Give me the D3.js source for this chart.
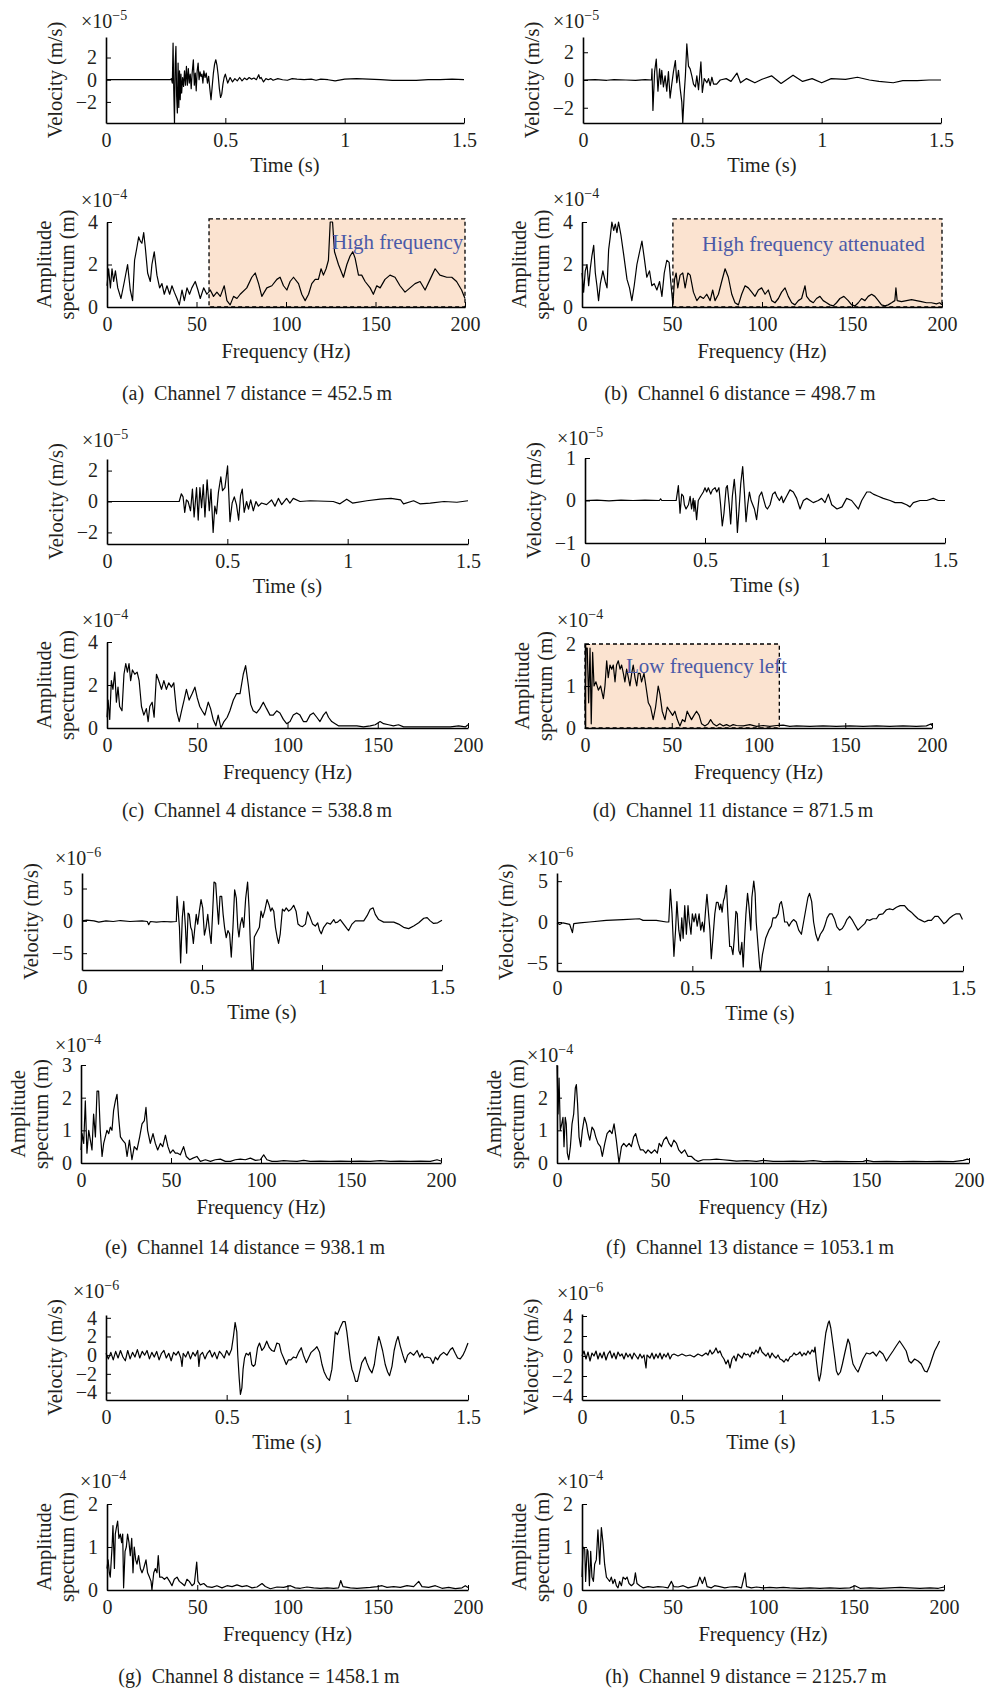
<!DOCTYPE html>
<html>
<head>
<meta charset="utf-8">
<script src="https://cdn.jsdelivr.net/npm/d3@7"></script>
<style>
  body { margin: 0; background: #fff; }
  svg text { font-family: "Liberation Serif", "Times New Roman", serif; fill: #231f20; }
</style>
</head>
<body>
<svg id="chart" width="987" height="1691"></svg>
<script>
// ---- data: [time s, velocity] and [frequency Hz, amplitude] ----
var ch7Vel = [[0,0],[0.27,0],[0.274,0.1],[0.278,-0.3],[0.281,3.3],[0.284,-1.0],[0.287,-3.9],[0.290,1.5],[0.293,3.0],[0.296,-1.5],[0.299,-3.0],[0.302,1.5],[0.305,-2.5],[0.308,0.8],[0.311,-1.8],[0.314,0.5],[0.317,-1.2],[0.321,0.2],[0.325,-0.6],[0.329,0.8],[0.333,-0.5],[0.337,1.2],[0.341,-0.5],[0.345,1.0],[0.349,-0.3],[0.353,0.5],[0.357,-0.8],[0.361,0.6],[0.366,1.8],[0.370,-0.5],[0.374,0.6],[0.378,-1.0],[0.382,0.8],[0.386,1.5],[0.390,0.0],[0.394,0.7],[0.398,0.3],[0.402,0.5],[0.406,-0.3],[0.41,0.8],[0.415,0.2],[0.42,0.6],[0.425,-0.3],[0.43,0.3],[0.435,-0.8],[0.44,-1.8],[0.445,-0.6],[0.45,0.6],[0.455,1.4],[0.46,1.8],[0.465,1.3],[0.47,0.4],[0.475,-0.8],[0.48,-1.6],[0.485,-1.3],[0.49,-0.4],[0.495,0.2],[0.50,0.5],[0.505,0.1],[0.51,-0.3],[0.52,0.2],[0.53,-0.2],[0.54,0.1],[0.55,-0.1],[0.56,0.2],[0.57,-0.1],[0.58,0.15],[0.59,0.0],[0.60,0.2],[0.61,0.05],[0.62,0.15],[0.63,0.0],[0.64,0.45],[0.645,0.1],[0.65,0.2],[0.66,-0.2],[0.67,0.1],[0.68,0.0],[0.69,0.1],[0.70,-0.05],[0.72,0.1],[0.74,0.0],[0.76,-0.05],[0.78,0.1],[0.80,0.05],[0.83,0.0],[0.86,0.05],[0.88,-0.05],[0.90,0.05],[0.93,0.0],[0.96,-0.1],[1.0,0.05],[1.05,0.1],[1.1,0.05],[1.15,0.0],[1.2,-0.05],[1.25,-0.05],[1.3,-0.05],[1.35,0.0],[1.4,0.0],[1.45,0.05],[1.5,0.0]];
var ch7Amp = [[0,1.0],[0.9,1.8],[1.9,0.9],[2.8,1.8],[3.7,1.2],[4.7,1.7],[6.0,0.9],[7.8,0.4],[9.7,1.2],[11.5,2.0],[13.0,0.8],[14.3,0.3],[15.4,2.2],[16.7,2.8],[17.7,3.3],[18.6,3.1],[19.5,3.0],[20.5,3.5],[21.4,2.8],[22.7,1.6],[24.2,1.2],[25.1,2.0],[26.4,2.6],[27.9,1.5],[29.4,0.9],[30.7,1.1],[32.0,0.6],[33.5,1.0],[35.0,0.6],[36.3,1.0],[37.6,0.7],[39.1,0.4],[40.4,0.1],[41.9,0.8],[43.2,0.3],[44.7,0.9],[46.1,0.6],[47.4,0.9],[49.3,1.2],[50.8,0.8],[52.1,0.4],[54.0,0.9],[55.8,0.6],[57.7,0.8],[59.5,0.5],[61.4,0.7],[63.3,0.5],[65.5,1.0],[67.0,0.3],[68.8,0.1],[70.7,0.5],[72.6,0.4],[74.4,0.6],[78.1,0.9],[80.9,1.4],[82.8,1.6],[84.7,1.1],[86.5,0.5],[89.3,0.9],[92.1,1.0],[94.9,1.3],[96.7,1.4],[98.6,1.0],[100.5,0.8],[102.3,1.2],[104.2,1.4],[107.0,1.1],[108.8,0.6],[110.7,0.3],[112.6,0.6],[114.4,1.1],[116.3,1.3],[118.1,1.3],[119.6,1.8],[120.9,1.5],[122.4,1.8],[123.7,2.2],[124.7,4.0],[126.0,4.0],[127.1,2.6],[129.3,2.0],[132.1,1.4],[134.0,2.0],[135.8,2.4],[137.3,2.6],[138.6,2.3],[140.5,1.5],[142.3,1.5],[144.2,1.2],[147.0,0.9],[148.8,0.6],[150.7,1.0],[152.6,0.9],[155.3,1.3],[158.1,1.5],[160.9,1.4],[163.7,1.0],[166.5,0.7],[169.3,0.9],[172.1,1.1],[174.9,1.2],[177.7,0.8],[180.5,1.3],[183.3,1.8],[186.0,1.5],[189.8,1.4],[192.6,1.4],[195.3,1.2],[198.1,0.8],[200,0.4]];

var ch6Vel = [[0,0],[0.05,0.02],[0.1,-0.02],[0.13,0.03],[0.18,0.0],[0.22,-0.03],[0.26,0.02],[0.287,0.0],[0.289,0.8],[0.293,-2.2],[0.300,0.6],[0.307,1.5],[0.314,-0.8],[0.321,0.8],[0.326,-0.3],[0.330,0.7],[0.337,-0.5],[0.344,0.3],[0.351,-0.8],[0.358,0.6],[0.365,-1.3],[0.372,-0.3],[0.379,0.6],[0.387,1.4],[0.393,-0.2],[0.400,0.7],[0.407,-0.6],[0.414,-1.6],[0.418,-3.1],[0.424,-1.0],[0.429,0.3],[0.435,2.6],[0.442,1.0],[0.449,0.8],[0.456,0.3],[0.463,-0.3],[0.471,-0.5],[0.477,0.3],[0.484,-0.7],[0.494,1.3],[0.500,-0.9],[0.508,0.1],[0.519,-0.2],[0.526,0.1],[0.533,-0.4],[0.54,0.2],[0.547,-0.3],[0.56,-0.3],[0.575,0.0],[0.6,0.1],[0.62,-0.1],[0.645,0.5],[0.66,-0.2],[0.685,0.1],[0.72,-0.2],[0.75,0.05],[0.79,0.3],[0.83,-0.25],[0.88,0.35],[0.92,-0.1],[0.96,0.1],[1.0,-0.2],[1.04,0.1],[1.1,0.05],[1.15,0.2],[1.2,0.0],[1.24,-0.1],[1.3,-0.2],[1.34,-0.05],[1.4,-0.05],[1.45,0.0],[1.5,0.0]];
var ch6Amp = [[0,1.6],[0.9,0.7],[1.8,1.7],[2.8,2.0],[3.7,1.0],[4.6,1.8],[5.5,2.4],[6.5,2.9],[7.4,1.6],[8.3,1.0],[9.2,0.3],[10.2,1.1],[11.6,1.7],[12.9,1.2],[13.9,0.9],[14.8,2.7],[15.7,3.3],[16.6,4.0],[17.6,3.6],[18.5,3.9],[19.4,3.5],[20.3,4.0],[21.6,3.4],[23.1,2.5],[25.0,1.3],[26.4,0.9],[27.7,0.3],[29.0,1.0],[30.5,2.0],[32.0,2.6],[33.3,3.1],[34.6,2.3],[36.0,1.4],[37.5,1.7],[38.8,1.0],[40.1,1.1],[41.6,0.8],[43.1,1.2],[44.4,0.5],[45.7,1.6],[47.1,2.2],[48.4,2.1],[49.5,1.0],[50.5,0.1],[51.4,1.3],[52.3,1.6],[53.2,0.9],[54.5,1.5],[56.0,1.6],[57.3,0.9],[58.8,1.6],[60.1,1.5],[61.9,0.7],[63.8,0.3],[65.6,0.5],[67.5,0.4],[69.3,0.6],[71.2,0.3],[72.6,0.8],[73.9,0.3],[75.8,0.6],[77.6,1.2],[79.5,1.8],[81.3,1.4],[83.2,0.6],[85.0,0.2],[86.9,0.1],[88.7,0.6],[90.6,1.0],[92.4,0.9],[94.3,0.7],[96.1,0.5],[98.0,0.8],[99.8,0.9],[101.7,0.6],[103.5,0.8],[105.4,0.3],[107.2,0.2],[109.1,0.4],[110.9,0.7],[112.8,0.9],[114.6,0.5],[116.5,0.2],[118.3,0.1],[120.2,0.3],[122.0,0.4],[123.9,1.0],[124.8,0.5],[126.6,0.3],[128.5,0.2],[130.3,0.4],[132.2,0.5],[134.0,0.3],[135.9,0.2],[137.7,0.1],[139.6,0.05],[141.4,0.2],[143.3,0.4],[145.5,0.5],[147.9,0.3],[149.8,0.1],[151.6,0.05],[153.5,0.2],[155.3,0.4],[157.2,0.3],[159.0,0.5],[160.9,0.6],[162.7,0.5],[164.6,0.3],[166.4,0.1],[168.3,0.05],[170.1,0.1],[172.0,0.2],[173.8,0.3],[174.4,0.9],[175.1,0.3],[177.5,0.25],[180.3,0.3],[183.1,0.35],[185.8,0.3],[188.6,0.25],[191.4,0.2],[194.1,0.2],[196.9,0.15],[198.7,0.2],[200,0.1]];

var ch4Vel = [[0,0],[0.30,0],[0.309,0.5],[0.316,0.3],[0.323,-0.7],[0.330,0.1],[0.337,0.0],[0.347,-0.6],[0.355,0.8],[0.362,-1.0],[0.372,0.9],[0.379,-1.2],[0.386,0.9],[0.393,-0.4],[0.40,1.1],[0.407,-1.0],[0.416,1.4],[0.425,-0.6],[0.432,0.8],[0.441,-2.0],[0.448,-0.3],[0.455,-0.8],[0.463,0.6],[0.473,1.6],[0.48,0.7],[0.49,0.9],[0.501,2.3],[0.511,-1.3],[0.52,-0.1],[0.529,0.3],[0.538,-0.2],[0.547,-1.2],[0.555,0.4],[0.562,0.8],[0.57,-0.7],[0.58,0.0],[0.588,-0.5],[0.597,0.1],[0.608,-0.6],[0.619,0.0],[0.629,-0.3],[0.642,-0.1],[0.663,-0.2],[0.684,0.1],[0.698,-0.3],[0.712,0.2],[0.726,-0.2],[0.746,0.2],[0.76,-0.1],[0.774,0.2],[0.802,0.0],[0.844,0.05],[0.94,0.0],[0.968,-0.15],[0.996,0.15],[1.02,-0.1],[1.08,0.05],[1.135,0.15],[1.18,0.2],[1.22,0.1],[1.232,-0.15],[1.274,0.05],[1.3,-0.15],[1.343,-0.1],[1.4,0.0],[1.454,-0.05],[1.5,0.05]];
var ch4Amp = [[0,0.5],[0.6,1.3],[1.5,0.4],[2.4,2.2],[3.3,1.8],[4.3,2.6],[5.2,1.2],[6.1,1.9],[7.0,1.0],[8.3,0.8],[9.4,2.5],[10.4,3.0],[11.3,2.6],[12.2,3.0],[13.1,2.2],[14.1,2.7],[15.4,2.5],[16.7,2.6],[17.8,2.2],[19.1,1.0],[20.4,0.6],[21.8,0.9],[22.8,0.3],[23.7,1.0],[25.0,1.2],[26.1,0.5],[27.4,2.5],[28.7,2.2],[30.2,1.8],[31.5,2.2],[32.9,1.8],[34.2,2.1],[35.7,1.9],[37.0,2.1],[38.5,0.8],[40.0,0.3],[41.3,0.8],[42.7,1.3],[44.0,1.8],[45.5,1.3],[47.2,1.6],[48.7,1.9],[50.0,1.4],[51.4,1.0],[52.7,0.8],[54.2,0.6],[56.1,1.2],[57.4,0.9],[58.8,0.4],[60.3,0.1],[61.6,0.6],[63.1,0.0],[64.8,0.3],[66.6,0.5],[68.1,0.8],[70.0,1.3],[71.8,1.6],[73.7,1.6],[75.5,2.5],[76.8,2.9],[78.3,2.0],[79.6,1.1],[81.0,0.8],[82.9,0.7],[84.7,0.9],[86.6,1.2],[88.4,0.9],[90.3,0.6],[92.1,0.6],[94.0,0.8],[95.8,0.7],[97.7,0.4],[99.5,0.2],[101.4,0.3],[103.2,0.6],[105.1,0.7],[106.9,0.6],[108.8,0.3],[110.6,0.3],[112.5,0.6],[114.3,0.7],[116.2,0.5],[118.0,0.3],[119.9,0.6],[121.4,0.75],[122.7,0.5],[124.5,0.3],[126.4,0.2],[128.2,0.1],[131.0,0.1],[134.7,0.1],[138.4,0.1],[142.1,0.05],[145.8,0.1],[148.6,0.15],[151.3,0.3],[153.2,0.2],[156.0,0.15],[158.7,0.1],[161.5,0.15],[164.3,0.05],[168.0,0.05],[173.5,0.05],[179.1,0.05],[184.6,0.05],[190.2,0.05],[194.8,0.1],[198.5,0.05],[200,0.15]];

var ch11Vel = [[0,0],[0.05,0.01],[0.1,-0.01],[0.15,0.01],[0.2,0.0],[0.25,0.01],[0.31,0.0],[0.315,0.04],[0.32,0.0],[0.38,0.0],[0.389,0.35],[0.396,-0.3],[0.403,0.15],[0.410,0.1],[0.414,-0.1],[0.421,-0.2],[0.431,-0.1],[0.438,0.1],[0.444,-0.2],[0.451,0.05],[0.454,-0.25],[0.458,0.0],[0.465,-0.45],[0.472,0.0],[0.482,0.1],[0.493,0.2],[0.5,0.3],[0.507,0.2],[0.514,0.3],[0.524,0.15],[0.531,0.25],[0.542,0.3],[0.549,0.2],[0.558,0.3],[0.565,-0.1],[0.572,-0.6],[0.579,-0.3],[0.588,0.3],[0.593,0.35],[0.601,-0.1],[0.607,-0.55],[0.614,0.1],[0.622,0.5],[0.628,0.1],[0.635,-0.75],[0.642,-0.2],[0.649,0.4],[0.657,0.8],[0.664,0.2],[0.671,-0.5],[0.678,-0.1],[0.685,0.2],[0.692,0.0],[0.699,-0.1],[0.706,-0.2],[0.715,-0.45],[0.726,0.1],[0.736,0.2],[0.743,0.05],[0.753,-0.15],[0.76,-0.2],[0.771,-0.1],[0.782,0.15],[0.792,0.2],[0.799,0.1],[0.81,0.0],[0.819,0.1],[0.826,-0.05],[0.84,0.1],[0.854,0.25],[0.868,0.2],[0.882,0.05],[0.896,-0.2],[0.91,0.0],[0.924,0.05],[0.938,0.0],[0.951,-0.05],[0.972,0.0],[0.986,0.05],[1.0,-0.05],[1.014,0.15],[1.028,-0.1],[1.05,-0.2],[1.071,-0.15],[1.09,0.05],[1.111,0.0],[1.132,-0.15],[1.139,-0.2],[1.153,0.0],[1.174,0.2],[1.188,0.2],[1.201,0.15],[1.222,0.1],[1.243,0.05],[1.271,0.0],[1.292,-0.05],[1.319,-0.05],[1.34,-0.1],[1.354,-0.15],[1.368,-0.05],[1.396,0.0],[1.424,0.0],[1.451,0.05],[1.472,0.0],[1.5,0.0]];
var ch11Amp = [[0,0.5],[0.6,1.9],[1.3,1.9],[2.1,0.6],[2.9,1.9],[3.6,0.1],[4.4,1.8],[5.2,1.0],[6.3,1.1],[7.7,0.9],[9.0,1.0],[10.6,0.7],[11.5,1.0],[12.5,1.6],[13.4,1.2],[14.4,1.5],[15.4,1.4],[16.3,1.5],[17.3,1.1],[18.2,1.5],[19.2,1.6],[20.2,1.4],[21.1,1.5],[22.1,1.3],[23.0,1.1],[24.0,1.4],[25.0,1.2],[25.9,1.0],[26.9,1.3],[27.8,1.5],[28.8,1.2],[29.8,1.0],[30.7,1.3],[31.7,1.3],[32.6,1.1],[34.0,1.3],[35.1,1.0],[36.5,0.6],[37.8,0.5],[39.3,0.2],[40.7,0.5],[42.2,1.0],[43.2,0.8],[44.5,0.4],[46.1,0.2],[47.4,0.5],[48.9,0.4],[50.5,0.3],[51.8,0.4],[53.2,0.2],[54.7,0.05],[56.2,0.2],[57.6,0.15],[58.9,0.4],[60.1,0.3],[61.4,0.2],[62.8,0.3],[64.3,0.4],[65.8,0.3],[67.2,0.1],[69.1,0.05],[71.0,0.1],[72.4,0.2],[73.9,0.1],[75.8,0.05],[77.7,0.1],[79.7,0.05],[81.6,0.08],[83.5,0.04],[85.4,0.08],[87.3,0.06],[91.2,0.05],[95.0,0.08],[98.8,0.04],[102.7,0.06],[106.5,0.04],[110.4,0.06],[114.2,0.07],[118.0,0.04],[121.9,0.05],[129.6,0.04],[137.2,0.05],[144.9,0.04],[152.6,0.05],[160.3,0.04],[168.0,0.05],[175.6,0.04],[183.3,0.05],[191.0,0.04],[196.8,0.05],[199.6,0.1],[200,0.05]];

var ch14Vel = [[0,0],[0.02,0.1],[0.05,0.0],[0.07,-0.2],[0.1,0.0],[0.13,-0.1],[0.16,0.05],[0.2,-0.1],[0.25,0.0],[0.272,-0.1],[0.278,-0.6],[0.285,-0.1],[0.31,-0.2],[0.34,-0.1],[0.37,-0.15],[0.393,-0.1],[0.396,3.8],[0.406,-1.0],[0.411,-6.5],[0.418,0.5],[0.424,3.0],[0.431,-1.0],[0.436,-5.0],[0.442,1.2],[0.447,1.0],[0.453,-1.0],[0.458,-1.5],[0.464,-3.5],[0.469,-1.5],[0.476,1.0],[0.482,-0.5],[0.489,1.5],[0.496,3.3],[0.503,2.0],[0.51,-2.2],[0.517,-1.0],[0.524,1.0],[0.531,-1.5],[0.538,-3.5],[0.544,1.0],[0.55,6.0],[0.557,5.8],[0.563,2.5],[0.569,-0.5],[0.575,3.8],[0.582,3.8],[0.588,1.0],[0.594,-1.0],[0.601,-2.6],[0.608,-1.5],[0.615,-2.0],[0.622,-5.6],[0.629,-1.0],[0.636,4.8],[0.643,3.5],[0.649,-1.0],[0.654,-2.5],[0.66,-0.5],[0.667,0.5],[0.674,-1.0],[0.682,3.5],[0.69,6.0],[0.696,2.0],[0.701,-3.0],[0.708,-7.5],[0.713,-7.5],[0.718,-2.5],[0.725,-2.0],[0.732,-1.5],[0.739,-1.0],[0.746,1.5],[0.753,0.5],[0.761,1.5],[0.771,3.3],[0.779,2.5],[0.786,1.5],[0.792,2.0],[0.799,1.5],[0.806,-1.0],[0.813,-2.5],[0.819,-3.5],[0.826,-2.0],[0.835,1.8],[0.843,1.5],[0.851,2.0],[0.861,1.5],[0.871,1.8],[0.882,2.4],[0.892,1.5],[0.9,-0.5],[0.91,-0.8],[0.919,-0.9],[0.931,-0.5],[0.94,1.4],[0.951,0.5],[0.961,-0.5],[0.972,-0.8],[0.982,-0.3],[0.99,-1.5],[0.997,-2.0],[1.007,-1.0],[1.021,-0.3],[1.035,-0.5],[1.049,0.2],[1.056,-0.3],[1.065,-0.2],[1.076,0.2],[1.09,-0.5],[1.104,-1.2],[1.111,-1.5],[1.125,-0.5],[1.139,0.0],[1.16,0.0],[1.174,0.0],[1.188,0.8],[1.201,1.8],[1.213,2.0],[1.222,1.0],[1.236,0.2],[1.257,-0.2],[1.278,-0.2],[1.299,-0.2],[1.319,-0.5],[1.34,-1.0],[1.361,-1.2],[1.382,-0.8],[1.403,-0.3],[1.424,0.4],[1.438,0.5],[1.451,0.0],[1.465,-0.4],[1.482,-0.3],[1.5,0.1]];
var ch14Amp = [[0,0.4],[0.6,0.9],[1.5,0.6],[2.4,1.9],[3.3,0.3],[4.3,1.0],[5.2,0.7],[6.1,0.4],[7.0,1.5],[8.0,0.8],[8.9,2.2],[9.8,2.2],[10.7,1.0],[11.7,0.2],[12.6,0.6],[13.5,0.8],[14.4,1.0],[15.4,0.9],[16.3,1.1],[17.2,1.0],[18.1,1.6],[19.1,1.9],[20.0,2.1],[20.9,1.4],[21.9,0.8],[23.1,0.7],[24.6,0.6],[25.6,0.2],[26.9,0.7],[28.3,0.1],[29.6,0.5],[31.1,0.4],[32.6,0.8],[33.9,1.2],[35.2,1.3],[36.1,1.7],[37.0,1.0],[38.5,0.6],[40.0,0.9],[41.3,0.6],[42.6,0.4],[44.1,0.6],[45.4,0.5],[46.9,0.85],[48.3,0.5],[49.6,0.3],[51.1,0.4],[52.4,0.3],[53.7,0.3],[55.2,0.25],[57.0,0.5],[58.5,0.2],[60.4,0.1],[62.2,0.15],[64.4,0.2],[66.3,0.05],[69.1,0.1],[71.9,0.05],[74.6,0.1],[77.4,0.12],[80.2,0.05],[83.0,0.05],[85.7,0.1],[88.5,0.12],[91.3,0.1],[94.1,0.15],[96.9,0.08],[99.6,0.1],[101.5,0.25],[103.3,0.1],[106.1,0.05],[108.9,0.05],[112.6,0.07],[116.3,0.06],[120.0,0.05],[123.7,0.08],[127.4,0.05],[133.0,0.06],[138.5,0.05],[144.1,0.06],[149.6,0.05],[155.2,0.06],[160.7,0.05],[166.3,0.07],[171.9,0.05],[177.4,0.06],[183.0,0.05],[188.5,0.06],[194.1,0.05],[197.8,0.1],[200,0.06]];

var ch13Vel = [[0,-0.1],[0.01,-0.3],[0.022,-0.1],[0.047,-0.3],[0.057,-1.3],[0.062,-0.2],[0.084,-0.1],[0.12,0.0],[0.182,0.2],[0.244,0.3],[0.305,0.4],[0.318,0.2],[0.367,0.2],[0.404,0.0],[0.413,0.0],[0.419,4.0],[0.425,1.0],[0.432,-4.2],[0.438,-1.0],[0.443,2.5],[0.45,-1.0],[0.456,-2.3],[0.461,0.5],[0.466,-2.0],[0.472,2.0],[0.478,-1.5],[0.484,2.0],[0.489,0.0],[0.495,-1.5],[0.5,1.0],[0.506,0.0],[0.512,1.0],[0.518,-0.5],[0.525,1.0],[0.531,-1.0],[0.537,0.0],[0.543,-1.2],[0.549,1.5],[0.554,3.4],[0.56,1.0],[0.565,-1.0],[0.57,-4.5],[0.576,-2.0],[0.583,1.0],[0.589,2.4],[0.595,2.4],[0.601,1.5],[0.605,2.2],[0.61,1.2],[0.615,2.6],[0.619,3.0],[0.626,4.5],[0.632,0.5],[0.638,-3.0],[0.644,-3.0],[0.65,-4.0],[0.655,-2.0],[0.661,1.3],[0.666,1.0],[0.672,-3.5],[0.677,-4.0],[0.683,-2.5],[0.688,-5.5],[0.693,-2.0],[0.698,1.0],[0.704,3.5],[0.709,2.0],[0.716,-1.0],[0.72,3.0],[0.727,5.0],[0.732,3.5],[0.736,0.0],[0.743,-3.0],[0.749,-5.5],[0.752,-6.0],[0.759,-4.0],[0.765,-3.0],[0.771,-2.0],[0.777,-1.5],[0.783,-1.0],[0.792,-0.5],[0.798,0.5],[0.808,0.5],[0.817,1.0],[0.823,2.2],[0.829,2.5],[0.835,1.5],[0.841,0.0],[0.85,0.0],[0.857,-0.5],[0.866,0.0],[0.874,0.3],[0.884,0.0],[0.893,-1.0],[0.903,-1.5],[0.911,0.0],[0.919,1.5],[0.927,3.0],[0.933,3.5],[0.941,2.5],[0.948,0.0],[0.956,-1.5],[0.964,-2.3],[0.973,-1.5],[0.983,-1.0],[0.989,-0.5],[0.998,0.5],[1.007,1.0],[1.016,1.0],[1.026,0.3],[1.034,-0.6],[1.044,-1.0],[1.054,-0.8],[1.063,-0.3],[1.071,0.3],[1.081,0.7],[1.09,0.3],[1.1,-0.3],[1.112,-1.0],[1.124,-0.6],[1.137,-0.2],[1.145,0.3],[1.155,0.2],[1.167,0.4],[1.18,0.4],[1.19,0.9],[1.204,1.0],[1.217,1.5],[1.229,1.6],[1.241,1.5],[1.254,1.8],[1.268,2.0],[1.284,2.0],[1.297,1.5],[1.309,1.2],[1.321,0.8],[1.334,0.4],[1.346,0.2],[1.358,0.0],[1.371,0.2],[1.383,0.2],[1.396,0.7],[1.408,0.7],[1.42,0.2],[1.429,-0.2],[1.438,0.0],[1.451,0.5],[1.463,0.8],[1.475,1.0],[1.488,1.0],[1.498,0.3]];
var ch13Amp = [[0,3.0],[0.5,1.5],[1.0,2.6],[1.6,1.0],[2.3,1.2],[2.9,1.4],[3.4,0.5],[4.0,1.4],[4.5,1.2],[5.0,0.3],[5.7,0.1],[6.5,0.5],[7.3,1.2],[8.1,1.5],[8.9,2.3],[9.4,2.4],[10.0,1.8],[10.7,0.8],[11.5,0.5],[12.3,1.0],[13.3,1.4],[14.3,1.2],[15.1,0.9],[15.9,0.7],[17.0,1.1],[18.0,1.0],[18.8,0.8],[19.9,0.6],[21.1,0.5],[22.0,0.2],[23.2,0.6],[24.3,0.9],[25.6,1.0],[26.7,0.9],[27.7,1.2],[28.8,0.7],[30.1,0.0],[31.3,0.5],[32.4,0.6],[33.7,0.5],[35.0,0.6],[36.1,0.5],[37.2,0.8],[38.2,0.9],[39.4,0.6],[40.5,0.4],[41.8,0.4],[43.1,0.3],[44.2,0.4],[45.8,0.3],[47.4,0.4],[48.7,0.3],[49.6,0.6],[50.7,0.5],[51.8,0.7],[53.1,0.8],[54.4,0.6],[55.5,0.5],[56.7,0.7],[58.0,0.6],[59.1,0.4],[60.4,0.3],[62.0,0.4],[63.6,0.2],[65.3,0.2],[66.9,0.1],[68.5,0.05],[70.9,0.1],[74.2,0.1],[77.4,0.12],[80.6,0.1],[83.9,0.08],[87.1,0.06],[92.0,0.07],[96.8,0.05],[100.1,0.08],[104.9,0.05],[109.8,0.05],[114.7,0.06],[119.5,0.05],[124.4,0.07],[129.2,0.04],[135.7,0.05],[142.2,0.04],[148.7,0.05],[150.3,0.08],[153.5,0.04],[160.0,0.05],[166.5,0.04],[172.9,0.05],[179.4,0.04],[185.9,0.05],[192.4,0.04],[197.2,0.08],[199.2,0.12],[200,0.1]];

var ch8Vel = [[0,0.2],[0.01,-0.4],[0.02,0.3],[0.03,-0.5],[0.04,0.4],[0.05,-0.3],[0.06,0.5],[0.07,-0.2],[0.08,-0.6],[0.09,0.5],[0.10,-0.4],[0.11,0.3],[0.12,-0.2],[0.13,0.6],[0.14,-0.3],[0.15,0.4],[0.16,0.0],[0.17,0.5],[0.18,-0.4],[0.19,0.3],[0.20,-0.2],[0.21,0.4],[0.22,-0.5],[0.23,0.2],[0.24,0.5],[0.25,-0.3],[0.26,0.2],[0.27,-0.6],[0.28,0.3],[0.29,0.0],[0.30,0.4],[0.31,-0.3],[0.315,-1.2],[0.32,0.2],[0.33,-0.2],[0.34,0.4],[0.35,-0.4],[0.36,0.3],[0.37,-0.1],[0.38,0.5],[0.385,-1.2],[0.39,0.0],[0.40,0.3],[0.41,-0.4],[0.42,0.2],[0.43,0.5],[0.44,-0.2],[0.45,0.3],[0.46,-0.4],[0.47,0.4],[0.48,0.1],[0.49,-0.3],[0.50,0.5],[0.51,0.0],[0.52,0.6],[0.528,2.0],[0.535,3.5],[0.542,2.5],[0.546,0.0],[0.552,-2.5],[0.557,-4.2],[0.563,-3.5],[0.568,-1.5],[0.574,-0.3],[0.581,0.2],[0.59,0.0],[0.597,0.3],[0.604,-1.0],[0.611,-1.2],[0.618,-1.0],[0.628,0.8],[0.636,1.3],[0.646,0.5],[0.655,0.8],[0.666,1.5],[0.677,0.8],[0.687,0.5],[0.697,0.4],[0.708,1.3],[0.718,1.2],[0.726,0.3],[0.736,-0.3],[0.747,-1.0],[0.756,-0.5],[0.766,-0.5],[0.777,-0.2],[0.788,-0.3],[0.798,0.3],[0.809,0.8],[0.818,0.0],[0.83,-0.8],[0.839,-0.3],[0.85,0.3],[0.863,0.6],[0.874,0.9],[0.885,0.3],[0.895,-1.0],[0.904,-1.8],[0.915,-2.4],[0.926,-2.7],[0.936,-1.5],[0.943,0.5],[0.95,2.5],[0.959,2.2],[0.971,3.0],[0.982,3.6],[0.991,3.6],[0.998,2.5],[1.005,1.0],[1.012,-0.5],[1.019,-1.5],[1.026,-2.0],[1.034,-2.8],[1.042,-2.8],[1.051,-1.8],[1.06,-0.8],[1.067,-0.5],[1.074,-0.2],[1.081,-0.8],[1.092,-1.5],[1.102,-1.9],[1.112,-1.0],[1.12,0.5],[1.13,2.0],[1.136,1.5],[1.146,0.5],[1.157,-1.0],[1.167,-1.8],[1.175,-2.2],[1.185,-1.2],[1.194,0.5],[1.203,1.5],[1.21,2.0],[1.219,1.0],[1.23,0.0],[1.24,-0.8],[1.25,0.0],[1.261,0.3],[1.275,0.0],[1.289,0.5],[1.3,-0.2],[1.309,0.2],[1.319,-0.3],[1.33,-0.2],[1.344,-0.3],[1.355,-0.9],[1.365,-0.2],[1.374,-0.5],[1.385,0.0],[1.399,0.3],[1.413,0.0],[1.427,0.6],[1.436,0.8],[1.447,0.2],[1.457,-0.3],[1.468,-0.4],[1.479,0.0],[1.488,0.5],[1.5,1.3]];
var ch8Amp = [[0,0.5],[0.6,0.7],[1.3,0.4],[1.8,0.3],[2.8,1.0],[3.3,1.5],[4.1,0.5],[4.6,1.3],[5.4,1.5],[5.9,1.6],[6.6,1.2],[7.4,1.3],[8.1,1.1],[8.7,1.3],[9.2,0.05],[10.0,0.9],[10.7,1.0],[11.4,1.3],[12.2,1.1],[12.9,0.8],[13.7,1.2],[14.4,0.4],[15.1,1.0],[15.9,0.7],[16.6,0.6],[17.5,0.8],[18.5,0.5],[19.4,0.4],[20.3,0.5],[21.6,0.7],[22.5,0.4],[23.5,0.3],[24.4,0.2],[24.9,0.0],[25.9,0.4],[26.8,0.5],[27.7,0.4],[28.4,0.8],[29.2,0.3],[30.5,0.3],[31.8,0.25],[33.2,0.3],[34.7,0.2],[36.0,0.1],[37.3,0.25],[38.8,0.3],[40.1,0.2],[41.6,0.15],[43.0,0.1],[44.3,0.25],[45.6,0.2],[47.1,0.1],[48.4,0.15],[49.7,0.65],[50.4,0.2],[51.7,0.12],[53.6,0.15],[55.4,0.08],[58.2,0.06],[60.9,0.1],[63.7,0.05],[66.5,0.1],[69.3,0.08],[72.0,0.12],[74.8,0.08],[77.6,0.1],[80.3,0.05],[83.1,0.07],[85.9,0.15],[87.7,0.08],[90.5,0.03],[94.2,0.07],[97.9,0.06],[101.6,0.1],[104.3,0.05],[107.1,0.04],[110.8,0.07],[114.5,0.05],[118.2,0.04],[121.9,0.05],[125.6,0.04],[128.3,0.05],[129.5,0.22],[130.7,0.08],[134.8,0.05],[138.5,0.04],[142.2,0.05],[145.9,0.06],[149.6,0.08],[152.4,0.1],[155.1,0.06],[158.8,0.08],[162.5,0.06],[166.2,0.1],[169.9,0.08],[172.7,0.2],[174.5,0.08],[178.2,0.06],[181.9,0.1],[185.6,0.04],[189.3,0.06],[193.0,0.03],[196.7,0.05],[198.5,0.1],[200,0.06]];

var ch9Vel = [[0,0.0],[0.01,0.5],[0.02,-0.3],[0.03,0.4],[0.04,-0.5],[0.05,0.3],[0.06,0.0],[0.07,0.5],[0.08,-0.3],[0.09,0.3],[0.10,-0.2],[0.11,0.4],[0.12,-0.4],[0.13,0.2],[0.14,0.5],[0.15,-0.2],[0.16,0.3],[0.17,-0.3],[0.18,0.4],[0.19,0.0],[0.20,0.2],[0.21,-0.3],[0.22,0.3],[0.23,-0.1],[0.24,0.2],[0.25,-0.3],[0.26,0.3],[0.27,0.0],[0.28,-0.3],[0.29,0.2],[0.30,-0.2],[0.31,0.1],[0.32,-1.2],[0.325,0.1],[0.34,-0.2],[0.35,0.3],[0.36,-0.3],[0.37,0.2],[0.38,-0.2],[0.39,0.3],[0.40,-0.3],[0.41,0.2],[0.42,-0.1],[0.43,0.3],[0.44,-0.3],[0.45,0.1],[0.46,0.2],[0.48,0.0],[0.50,0.2],[0.52,0.0],[0.54,0.1],[0.56,-0.1],[0.58,0.2],[0.60,0.0],[0.62,0.3],[0.63,0.1],[0.64,0.6],[0.65,0.2],[0.66,0.4],[0.67,0.8],[0.68,0.3],[0.69,0.5],[0.70,0.0],[0.71,-0.3],[0.72,-0.8],[0.73,-0.4],[0.74,-1.2],[0.75,-0.3],[0.76,0.0],[0.77,-0.5],[0.78,0.2],[0.79,0.0],[0.80,-0.2],[0.81,0.3],[0.82,0.1],[0.83,0.2],[0.84,-0.1],[0.85,0.4],[0.86,0.2],[0.87,0.6],[0.88,0.3],[0.89,0.9],[0.90,0.4],[0.91,0.2],[0.92,0.0],[0.93,0.3],[0.94,-0.2],[0.95,0.3],[0.96,0.0],[0.97,-0.2],[0.98,0.1],[0.99,-0.3],[1.00,-0.4],[1.01,-0.6],[1.02,-0.3],[1.03,-0.5],[1.04,-0.1],[1.05,0.0],[1.06,0.3],[1.07,0.1],[1.08,0.2],[1.09,0.4],[1.10,0.0],[1.11,0.3],[1.12,0.1],[1.13,0.5],[1.14,0.2],[1.15,0.6],[1.16,0.4],[1.165,0.9],[1.172,-0.5],[1.181,-2.0],[1.186,-2.5],[1.194,-1.8],[1.202,-0.5],[1.211,1.0],[1.219,2.3],[1.231,3.3],[1.236,3.5],[1.244,2.8],[1.256,1.0],[1.266,-0.5],[1.272,-1.5],[1.281,-1.9],[1.292,-1.6],[1.302,-0.8],[1.314,0.3],[1.322,1.0],[1.33,1.7],[1.339,1.2],[1.347,0.0],[1.355,-0.8],[1.369,-1.3],[1.38,-1.6],[1.392,-1.0],[1.405,-0.3],[1.422,0.3],[1.439,0.2],[1.455,0.4],[1.472,0.0],[1.488,0.5],[1.505,0.2],[1.522,-0.5],[1.538,0.0],[1.555,0.5],[1.571,1.0],[1.588,1.5],[1.605,1.0],[1.621,0.5],[1.635,-0.5],[1.646,-0.7],[1.663,-0.3],[1.68,-0.5],[1.696,-0.8],[1.713,-1.5],[1.725,-1.6],[1.738,-1.0],[1.751,-0.2],[1.763,0.5],[1.776,1.0],[1.788,1.5]];
var ch9Amp = [[0,0.3],[0.6,1.0],[1.5,0.95],[2.0,0.2],[2.8,0.95],[3.3,0.9],[4.1,0.1],[4.8,0.9],[5.5,0.3],[6.3,0.2],[7.0,0.6],[7.9,0.7],[8.8,1.4],[9.8,0.6],[10.7,1.45],[11.6,1.1],[12.5,0.6],[13.5,0.3],[14.4,0.25],[15.3,0.2],[16.2,0.3],[17.1,0.15],[18.1,0.25],[19.0,0.1],[19.9,0.05],[20.8,0.2],[21.8,0.1],[22.7,0.3],[24.0,0.25],[24.9,0.3],[26.0,0.15],[27.3,0.1],[28.6,0.15],[29.5,0.4],[30.4,0.15],[31.9,0.1],[33.7,0.05],[36.5,0.08],[39.3,0.06],[42.0,0.08],[44.8,0.07],[47.5,0.05],[49.4,0.2],[50.7,0.08],[53.1,0.07],[55.9,0.1],[58.6,0.05],[61.4,0.08],[63.6,0.1],[65.1,0.3],[66.5,0.15],[67.8,0.3],[69.1,0.08],[71.5,0.05],[73.3,0.1],[76.1,0.08],[78.9,0.05],[81.7,0.07],[85.3,0.08],[88.1,0.05],[90.1,0.4],[90.9,0.08],[93.6,0.05],[96.4,0.07],[100.1,0.05],[103.8,0.06],[107.5,0.05],[111.2,0.06],[114.8,0.05],[120.4,0.04],[125.9,0.05],[131.4,0.04],[137.0,0.05],[142.5,0.04],[148.0,0.05],[150.8,0.1],[153.6,0.04],[159.1,0.05],[164.6,0.04],[170.1,0.05],[175.7,0.06],[181.2,0.05],[186.7,0.04],[192.3,0.05],[196.9,0.04],[200,0.07]];

// axis ticks and labels
var timeTicks = [0, 0.5, 1, 1.5];
var freqTicks = [0, 50, 100, 150, 200];
var captions = ['(a)\u2002Channel 7 distance = 452.5\u2009m', '(b)\u2002Channel 6 distance = 498.7\u2009m',
  '(c)\u2002Channel 4 distance = 538.8\u2009m', '(d)\u2002Channel 11 distance = 871.5\u2009m',
  '(e)\u2002Channel 14 distance = 938.1\u2009m', '(f)\u2002Channel 13 distance = 1053.1\u2009m',
  '(g)\u2002Channel 8 distance = 1458.1\u2009m', '(h)\u2002Channel 9 distance = 2125.7\u2009m'];
var velExponents = ['\u22125', '\u22125', '\u22125', '\u22125', '\u22126', '\u22126', '\u22126', '\u22126'];
var shadeBands = [[57, 200, 4.15], [50.5, 200, 4.15], null, [0, 112, 2], null, null, null, null];
var shadeNotes = ['High frequency', 'High frequency attenuated', null, 'Low frequency left', null, null, null, null];

// per-panel scale settings
var panels = [
  { vel: ch7Vel,  amp: ch7Amp,  tMax: 1.5,  vDom: [-3.9, 3.85], vTicks: [-2, 0, 2], vMinor: 0, aDom: [0, 4], aTicks: [0, 2, 4], aMinor: 0.5 },
  { vel: ch6Vel,  amp: ch6Amp,  tMax: 1.5,  vDom: [-3.1, 3.1],  vTicks: [-2, 0, 2], vMinor: 0, aDom: [0, 4], aTicks: [0, 2, 4], aMinor: 0.5 },
  { vel: ch4Vel,  amp: ch4Amp,  tMax: 1.5,  vDom: [-2.75, 2.75], vTicks: [-2, 0, 2], vMinor: 0, aDom: [0, 4], aTicks: [0, 2, 4], aMinor: 0.5 },
  { vel: ch11Vel, amp: ch11Amp, tMax: 1.5,  vDom: [-1, 1],      vTicks: [-1, 0, 1], vMinor: 0.1, aDom: [0, 2], aTicks: [0, 1, 2], aMinor: 0.2 },
  { vel: ch14Vel, amp: ch14Amp, tMax: 1.5,  vDom: [-7.6, 7.4],  vTicks: [-5, 0, 5], vMinor: 0,   aDom: [0, 3], aTicks: [0, 1, 2, 3], aMinor: 0.2 },
  { vel: ch13Vel, amp: ch13Amp, tMax: 1.5,  vDom: [-6, 6],      vTicks: [-5, 0, 5], vMinor: 0,   aDom: [0, 3], aTicks: [0, 1, 2], aMinor: 0.2 },
  { vel: ch8Vel,  amp: ch8Amp,  tMax: 1.5,  vDom: [-4.8, 4.3],  vTicks: [-4, -2, 0, 2, 4], vMinor: 0.5, aDom: [0, 2], aTicks: [0, 1, 2], aMinor: 0.2 },
  { vel: ch9Vel,  amp: ch9Amp,  tMax: 1.79, vDom: [-4.4, 4.2],  vTicks: [-4, -2, 0, 2, 4], vMinor: 0.5, aDom: [0, 2], aTicks: [0, 1, 2], aMinor: 0.2 }
];

// layout in pixels: v = velocity box [x0,x1,yBottom,yTop], a = spectrum box, *e = exponent label anchor, cap = caption centre/baseline, note = note start
var layout = [
  { v: [106, 464, 123, 37],    ve: [81, 28],    a: [107, 465, 307, 222],   ae: [81, 207],   cap: [257, 400],  note: [332, 249] },
  { v: [583, 941, 123, 37],    ve: [553, 28],   a: [582, 942, 307, 222],   ae: [553, 206],  cap: [740, 400],  note: [702, 251] },
  { v: [107, 468, 544, 459],   ve: [82, 447],   a: [107, 468, 728, 642],   ae: [82, 627],   cap: [257, 817] },
  { v: [585, 945, 543, 458],   ve: [557, 445],  a: [585, 932, 728, 644],   ae: [557, 627],  cap: [733, 817],  note: [626, 673] },
  { v: [82, 442, 970, 873],    ve: [55, 865],   a: [81, 441, 1163, 1065],  ae: [55, 1052],  cap: [245, 1254] },
  { v: [557, 963, 971, 873],   ve: [527, 865],  a: [557, 969, 1163, 1065], ae: [527, 1062], cap: [750, 1254] },
  { v: [106, 468, 1400, 1315], ve: [73, 1298],  a: [107, 468, 1590, 1504], ae: [80, 1488],  cap: [259, 1683] },
  { v: [582, 940, 1400, 1314], ve: [557, 1300], a: [582, 944, 1590, 1504], ae: [557, 1488], cap: [746, 1683] }
];

var svg = d3.select('#chart');
var fmt = d3.format('');

function minorValues(dom, step, majors) {
  if (!step) return [];
  var lo = Math.ceil(dom[0] / step - 1e-9), hi = Math.floor(dom[1] / step + 1e-9);
  return d3.range(lo, hi + 1).map(function(k) { return +(k * step).toFixed(4); })
    .filter(function(v) { return majors.indexOf(v) < 0; });
}

function drawAxes(g, x, y, xTicks, xMinorStep, yTicks, yMinorStep) {
  var yb = y.range()[0], xl = x.range()[0];

  var xa = g.append('g').attr('transform', 'translate(0,' + yb + ')');
  xa.call(d3.axisBottom(x).tickValues(minorValues(x.domain(), xMinorStep, xTicks)).tickSize(-2.5).tickSizeOuter(0).tickFormat(''));
  xa.call(d3.axisBottom(x).tickValues(xTicks).tickSize(-5).tickSizeOuter(0).tickPadding(10).tickFormat(fmt));

  var ya = g.append('g').attr('transform', 'translate(' + xl + ',0)');
  ya.call(d3.axisLeft(y).tickValues(minorValues(y.domain(), yMinorStep, yTicks)).tickSize(-2.5).tickSizeOuter(0).tickFormat(''));
  ya.call(d3.axisLeft(y).tickValues(yTicks).tickSize(-5).tickSizeOuter(0).tickPadding(9).tickFormat(fmt));

  g.selectAll('.domain').attr('stroke', '#000').attr('stroke-width', 1.6);
  g.selectAll('.tick line').attr('stroke', '#000').attr('stroke-width', 1);
  g.selectAll('.tick text').attr('font-size', 20).attr('font-family', '"Liberation Serif", serif').attr('fill', '#231f20');
}

function exponentLabel(g, pos, exp) {
  var t = g.append('text').attr('x', pos[0]).attr('y', pos[1]).attr('font-size', 20);
  t.append('tspan').text('\u00d710');
  t.append('tspan').attr('dy', -8).attr('font-size', 14).text(exp);
}

panels.forEach(function(p, i) {
  var L = layout[i];
  var g = svg.append('g');

  // velocity record
  var xv = d3.scaleLinear().domain([0, p.tMax]).range([L.v[0], L.v[1]]);
  var yv = d3.scaleLinear().domain(p.vDom).range([L.v[2], L.v[3]]).clamp(true);
  g.append('path').datum(p.vel)
    .attr('fill', 'none').attr('stroke', '#000').attr('stroke-width', 1.2).attr('stroke-linejoin', 'round')
    .attr('d', d3.line().x(function(d) { return xv(d[0]); }).y(function(d) { return yv(d[1]); }));
  drawAxes(g, xv, yv, timeTicks, 0.05, p.vTicks, p.vMinor);
  exponentLabel(g, L.ve, velExponents[i]);
  g.append('text').attr('x', (L.v[0] + L.v[1]) / 2).attr('y', L.v[2] + 49)
    .attr('text-anchor', 'middle').attr('font-size', 20.5).text('Time (s)');
  g.append('text')
    .attr('transform', 'translate(' + (L.v[0] - 51) + ',' + ((L.v[2] + L.v[3]) / 2) + ') rotate(-90)')
    .attr('text-anchor', 'middle').attr('dominant-baseline', 'central').attr('font-size', 20.5)
    .text('Velocity (m/s)');

  // amplitude spectrum
  var xa = d3.scaleLinear().domain([0, 200]).range([L.a[0], L.a[1]]);
  var ya = d3.scaleLinear().domain(p.aDom).range([L.a[2], L.a[3]]);
  var band = shadeBands[i];
  if (band) {
    g.append('rect')
      .attr('x', xa(band[0])).attr('width', xa(band[1]) - xa(band[0]))
      .attr('y', ya(band[2])).attr('height', ya(0) - ya(band[2]))
      .attr('fill', '#fbe3d0').attr('stroke', '#000').attr('stroke-width', 1.3)
      .attr('stroke-dasharray', '4,3');
  }
  g.append('path').datum(p.amp)
    .attr('fill', 'none').attr('stroke', '#000').attr('stroke-width', 1.2).attr('stroke-linejoin', 'round')
    .attr('d', d3.line().x(function(d) { return xa(d[0]); }).y(function(d) { return ya(d[1]); }));
  drawAxes(g, xa, ya, freqTicks, 5, p.aTicks, p.aMinor);
  exponentLabel(g, L.ae, '\u22124');
  if (shadeNotes[i]) {
    g.append('text').attr('x', L.note[0]).attr('y', L.note[1]).attr('font-size', 21)
      .style('fill', '#4a5aa8').text(shadeNotes[i]);
  }
  g.append('text').attr('x', (L.a[0] + L.a[1]) / 2).attr('y', L.a[2] + 51)
    .attr('text-anchor', 'middle').attr('font-size', 20.5).text('Frequency (Hz)');
  var my = (L.a[2] + L.a[3]) / 2;
  [['Amplitude', 63], ['spectrum (m)', 40]].forEach(function(line) {
    g.append('text')
      .attr('transform', 'translate(' + (L.a[0] - line[1]) + ',' + my + ') rotate(-90)')
      .attr('text-anchor', 'middle').attr('dominant-baseline', 'central').attr('font-size', 20.5)
      .text(line[0]);
  });

  // caption
  g.append('text').attr('x', L.cap[0]).attr('y', L.cap[1])
    .attr('text-anchor', 'middle').attr('font-size', 20).text(captions[i]);
});
</script>
</body>
</html>
